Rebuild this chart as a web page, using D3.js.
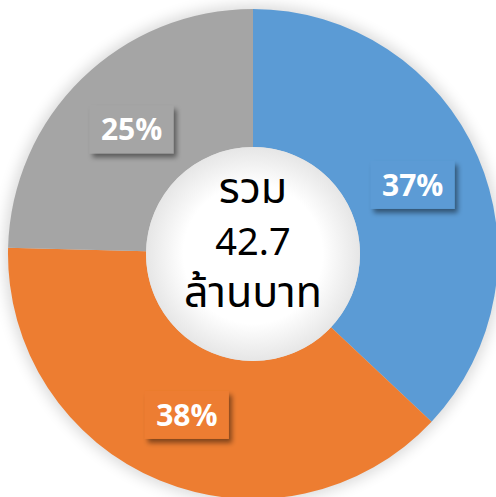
<!DOCTYPE html>
<html>
<head>
<meta charset="utf-8">
<script src="https://d3js.org/d3.v7.min.js"></script>
<style>
  body { margin: 0; background: #fff; }
  svg { display: block; }
</style>
</head>
<body>
<div id="container"></div>
<script>
/* DATA */
const segments = ["blue", "orange", "gray"];
const values = [15.8, 16.4, 10.5];          // ล้านบาท
const pctLabels = ["37%", "38%", "25%"];
const colors = ["#5B9BD5", "#ED7D31", "#A5A5A5"];
const centerLines = ["รวม", "42.7", "ล้านบาท"];

/* CONSTANTS */
const width = 496;
const height = 497;
const cx = 253, cy = 254;
const outerR = 245, innerR = 107;

const svg = d3.select("#container")
  .append("svg")
  .attr("width", width)
  .attr("height", height);

const defs = svg.append("defs");

// soft glow round the ring
defs.append("filter").attr("id", "glow")
  .attr("x", "-20%").attr("y", "-20%").attr("width", "140%").attr("height", "140%")
  .append("feGaussianBlur").attr("stdDeviation", 7);

// label box shadow
const sh = defs.append("filter").attr("id", "shadow")
  .attr("x", "-30%").attr("y", "-30%").attr("width", "160%").attr("height", "160%");
sh.append("feDropShadow")
  .attr("dx", 3).attr("dy", 4).attr("stdDeviation", 2.5)
  .attr("flood-color", "#000").attr("flood-opacity", 0.45);

// hole shading
const rg = defs.append("radialGradient").attr("id", "hole");
rg.append("stop").attr("offset", "0%").attr("stop-color", "#ffffff");
rg.append("stop").attr("offset", "65%").attr("stop-color", "#ffffff");
rg.append("stop").attr("offset", "100%").attr("stop-color", "#e6e6e6");

const g = svg.append("g").attr("transform", `translate(${cx},${cy})`);

g.append("circle")
  .attr("r", outerR + 4)
  .attr("fill", "#000")
  .attr("opacity", 0.14)
  .attr("filter", "url(#glow)");

/* PIE */
const pie = d3.pie().sort(null).value(d => d);
const arcs = pie(values);

const arc = d3.arc().innerRadius(innerR).outerRadius(outerR);
const labelArc = d3.arc().innerRadius(174).outerRadius(174);

g.selectAll("path.slice")
  .data(arcs)
  .join("path")
  .attr("class", "slice")
  .attr("d", arc)
  .attr("fill", (d, i) => colors[i]);

g.append("circle")
  .attr("r", innerR)
  .attr("fill", "url(#hole)");

/* LABELS */
const labels = g.selectAll("g.lbl")
  .data(arcs)
  .join("g")
  .attr("class", "lbl")
  .attr("transform", d => `translate(${labelArc.centroid(d)})`);

labels.append("rect")
  .attr("x", -42).attr("y", -24)
  .attr("width", 84).attr("height", 48)
  .attr("fill", (d, i) => colors[i])
  .attr("filter", "url(#shadow)");

labels.append("text")
  .attr("text-anchor", "middle")
  .attr("dy", "0.36em")
  .attr("fill", "#fff")
  .style("font-family", "'Open Sans', 'Noto Sans', sans-serif")
  .style("font-weight", 700)
  .style("font-size", "30px")
  .text((d, i) => pctLabels[i]);

/* CENTER TEXT */
g.selectAll("text.center")
  .data(centerLines)
  .join("text")
  .attr("class", "center")
  .attr("text-anchor", "middle")
  .attr("y", (d, i) => -51 + i * 52)
  .attr("fill", "#000")
  .style("font-family", "'Noto Sans Thai', 'Leelawadee UI', 'Noto Sans', sans-serif")
  .style("font-size", (d, i) => i === 1 ? "38px" : "43px")
  .text(d => d);
</script>
</body>
</html>
